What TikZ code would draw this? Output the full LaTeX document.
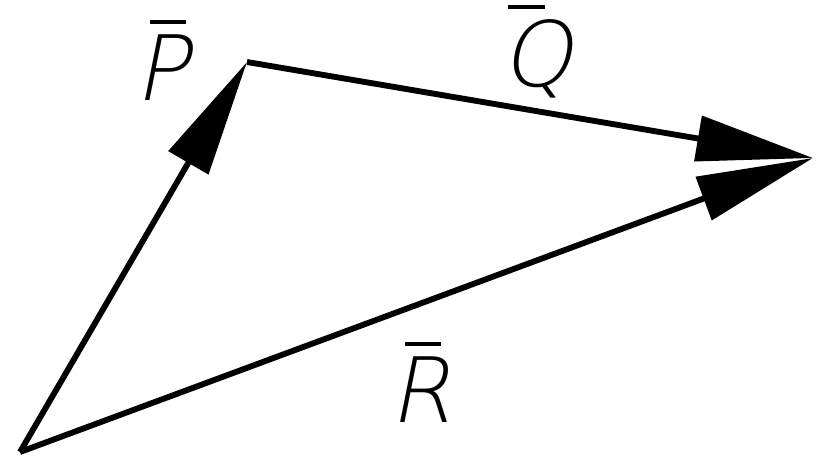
\documentclass[tikz,border=0pt]{standalone}
\usepackage{fontspec}
\setmainfont{Liberation Sans}
\newfontfamily\thinsans[FakeSlant=0.2]{DejaVu Sans ExtraLight}
\usetikzlibrary{arrows.meta,positioning}
% letter with a short bar above it, #1 = shift of the bar
\newcommand{\vbar}[2]{\leavevmode\setbox0\hbox{#2}%
  \rlap{\hspace*{#1}\raisebox{\dimexpr\ht0+0.3cm\relax}[0pt][0pt]{\rule{1.1cm}{0.12cm}}}\box0}

\begin{document}
\begin{tikzpicture}[x=0.03cm, y=-0.03cm,
    vec/.style={line width=5pt, -{Triangle[length=3.5cm,width=1.35cm]}},
    lbl/.style={font=\thinsans\fontsize{77}{88}\selectfont, inner sep=0pt, anchor=base}]
        \useasboundingbox (0,0) rectangle (817,463);
        \coordinate (o) at (20,452);
        \coordinate (p) at (247,62);
        \coordinate (q) at (813,158);
        \draw[vec] (o)--(p);
        \draw[vec] (p)--(q);
        \draw[vec] (o)--(q);
        \node[lbl] (lp) at (162,100) {\vbar{0.45cm}{P}};
        \node[lbl] (lq) at (537,86) {\vbar{0.2cm}{Q}};
        \node[lbl] (lr) at (421,422) {\vbar{0.45cm}{R}};
      \end{tikzpicture}
\end{document}
